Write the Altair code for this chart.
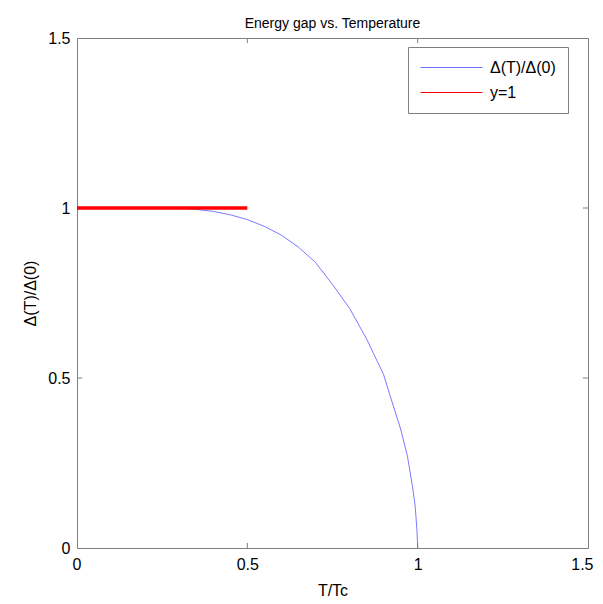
import altair as alt
import pandas as pd

# Data
T_VALUES = [0.0, 0.1, 0.2, 0.3, 0.35, 0.4, 0.45, 0.5, 0.55, 0.6, 0.65, 0.7, 0.75,
            0.8, 0.85, 0.87, 0.9, 0.92, 0.95, 0.97, 0.985, 0.993, 0.998, 1.0]
GAP_VALUES = [1.0, 1.0, 1.0, 0.999, 0.996, 0.99, 0.98, 0.966, 0.946, 0.92, 0.885,
              0.84, 0.775, 0.705, 0.615, 0.573, 0.51, 0.445, 0.35, 0.27, 0.18,
              0.12, 0.05, 0.0]
REF_T = [0.0, 0.5]
REF_Y = [1.0, 1.0]
SERIES = ["Δ(T)/Δ(0)", "y=1"]
TICKS = [0.5, 1.0]
AXIS_VALUES = [0, 0.5, 1, 1.5]

FONT = "Liberation Sans"
GRAY = "#808080"
INWARD = 0.015

gap_df = pd.DataFrame({"T": T_VALUES, "v": GAP_VALUES, "series": SERIES[0]})
ref_df = pd.DataFrame({"T": REF_T, "v": REF_Y, "series": SERIES[1]})

xscale = alt.Scale(domain=[0, 1.5], nice=False, zero=False)
yscale = alt.Scale(domain=[0, 1.5], nice=False, zero=False)

xaxis = alt.Axis(values=AXIS_VALUES, labelExpr="datum.value", title="T/Tc",
                 titlePadding=10, labelPadding=8, labelFlush=True,
                 labelFlushOffset=5)
yaxis = alt.Axis(values=AXIS_VALUES, labelExpr="datum.value", title="Δ(T)/Δ(0)",
                 titlePadding=9, labelPadding=7, labelFlush=False)

color = alt.Color("series:N",
                  scale=alt.Scale(domain=SERIES, range=["#6b6bff", "#ff0000"]),
                  legend=alt.Legend(title=None, orient="none", legendX=331, legendY=9,
                                    symbolType="M-1,0H6.75", symbolSize=256,
                                    symbolStrokeWidth=1, labelFont=FONT,
                                    labelFontSize=16, labelColor="black",
                                    strokeColor=GRAY, fillColor="white",
                                    padding=12, rowPadding=8, labelOffset=53,
                                    symbolOffset=0))

gap_line = alt.Chart(gap_df).mark_line(strokeWidth=0.9).encode(
    x=alt.X("T:Q", scale=xscale, axis=xaxis),
    y=alt.Y("v:Q", scale=yscale, axis=yaxis),
    color=color,
)
ref_line = alt.Chart(ref_df).mark_line(strokeWidth=3.5).encode(
    x=alt.X("T:Q", scale=xscale),
    y=alt.Y("v:Q", scale=yscale),
    color=color,
)

tick_rows = []
for t in TICKS:
    tick_rows.append({"x": t, "x2": t, "y": 0.0, "y2": INWARD})
    tick_rows.append({"x": t, "x2": t, "y": 1.5, "y2": 1.5 - INWARD})
    tick_rows.append({"x": 0.0, "x2": INWARD, "y": t, "y2": t})
    tick_rows.append({"x": 1.5, "x2": 1.5 - INWARD, "y": t, "y2": t})
ticks = alt.Chart(pd.DataFrame(tick_rows)).mark_rule(color=GRAY, strokeWidth=1).encode(
    x=alt.X("x:Q", scale=xscale), x2="x2:Q",
    y=alt.Y("y:Q", scale=yscale), y2="y2:Q",
)

chart = alt.layer(ticks, gap_line, ref_line).properties(
    width=511, height=510,
    title=alt.Title("Energy gap vs. Temperature", font=FONT, fontSize=14,
                    fontWeight="normal", color="black", offset=-1),
    autosize=alt.AutoSizeParams(type="none"),
    padding={"left": 69, "top": 30, "right": 7, "bottom": 50},
).configure_axis(
    grid=False, domain=False, ticks=False,
    labelFont=FONT, labelFontSize=16, labelColor="black",
    titleFont=FONT, titleFontSize=16, titleFontWeight="normal", titleColor="black",
).configure_view(stroke=GRAY, strokeWidth=1)

chart.save("out.html", embed_options={"renderer": "svg", "actions": False})
